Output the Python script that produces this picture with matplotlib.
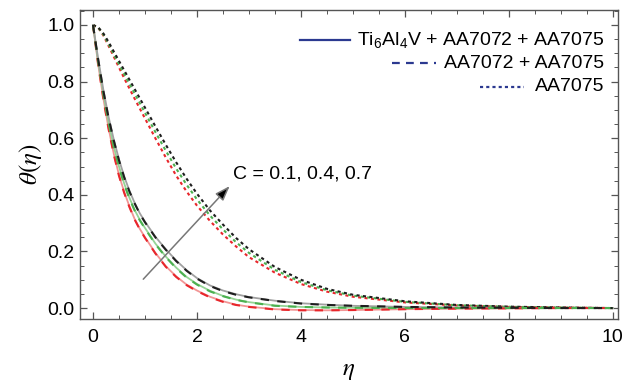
import matplotlib
matplotlib.use("Agg")
import matplotlib.pyplot as plt
from matplotlib.ticker import MultipleLocator
from matplotlib.lines import Line2D

plt.rcParams['font.family'] = ['Liberation Sans', 'DejaVu Sans']
plt.rcParams['mathtext.fontset'] = 'stix'

# ---------------- data ----------------
eta = [0, 0.1, 0.2, 0.3, 0.4, 0.5, 0.6, 0.7, 0.8, 0.9, 1.0, 1.2, 1.4, 1.6, 1.8,
       2.0, 2.25, 2.5, 2.75, 3.0, 3.5, 4.0, 4.5, 5.0, 6.0, 7.0, 8.0, 9.0, 10.0]

# Ti6Al4V + AA7072 + AA7075 (solid) -- C = 0.1, 0.4, 0.7
tri_c01 = [1.0, 0.86, 0.74, 0.635, 0.545, 0.47, 0.41, 0.36, 0.315, 0.28, 0.25,
           0.195, 0.148, 0.112, 0.083, 0.062, 0.040, 0.024, 0.012, 0.005,
           -0.004, -0.007, -0.008, -0.007, -0.004, -0.002, -0.001, 0.0, 0.0]
tri_c04 = [1.0, 0.87, 0.755, 0.655, 0.57, 0.50, 0.44, 0.39, 0.347, 0.312, 0.283,
           0.228, 0.182, 0.143, 0.11, 0.085, 0.061, 0.043, 0.030, 0.021,
           0.009, 0.004, 0.002, 0.001, 0.0, 0.0, 0.0, 0.0, 0.0]
tri_c07 = [1.0, 0.88, 0.77, 0.675, 0.595, 0.525, 0.465, 0.415, 0.372, 0.335, 0.305,
           0.252, 0.208, 0.168, 0.134, 0.106, 0.080, 0.062, 0.049, 0.039,
           0.026, 0.017, 0.012, 0.008, 0.004, 0.002, 0.001, 0.0, 0.0]

# AA7072 + AA7075 (dashed)
hyb_c01 = [1.0, 0.858, 0.737, 0.632, 0.542, 0.467, 0.407, 0.357, 0.313, 0.278, 0.248,
           0.193, 0.146, 0.110, 0.081, 0.060, 0.038, 0.022, 0.011, 0.004,
           -0.005, -0.008, -0.008, -0.007, -0.004, -0.002, -0.001, 0.0, 0.0]
hyb_c04 = [1.0, 0.868, 0.752, 0.652, 0.567, 0.497, 0.437, 0.387, 0.345, 0.310, 0.281,
           0.226, 0.180, 0.141, 0.108, 0.083, 0.059, 0.042, 0.029, 0.020,
           0.008, 0.004, 0.002, 0.001, 0.0, 0.0, 0.0, 0.0, 0.0]
hyb_c07 = [1.0, 0.878, 0.767, 0.672, 0.592, 0.522, 0.462, 0.412, 0.370, 0.333, 0.303,
           0.250, 0.206, 0.166, 0.132, 0.104, 0.078, 0.060, 0.047, 0.038,
           0.025, 0.016, 0.011, 0.008, 0.004, 0.002, 0.001, 0.0, 0.0]

# AA7075 (dotted)
mono_c01 = [1.0, 0.99, 0.963, 0.926, 0.888, 0.850, 0.812, 0.776, 0.740, 0.705, 0.670,
            0.600, 0.532, 0.468, 0.412, 0.362, 0.308, 0.26, 0.218, 0.18,
            0.125, 0.085, 0.058, 0.04, 0.02, 0.009, 0.004, 0.002, 0.0]
mono_c04 = [1.0, 0.991, 0.966, 0.932, 0.896, 0.861, 0.826, 0.792, 0.758, 0.724, 0.690,
            0.622, 0.556, 0.493, 0.436, 0.384, 0.327, 0.278, 0.233, 0.195,
            0.135, 0.092, 0.063, 0.044, 0.022, 0.010, 0.0045, 0.002, 0.0]
mono_c07 = [1.0, 0.992, 0.970, 0.940, 0.906, 0.873, 0.840, 0.807, 0.774, 0.741, 0.708,
            0.642, 0.577, 0.515, 0.457, 0.404, 0.345, 0.295, 0.248, 0.208,
            0.145, 0.100, 0.068, 0.047, 0.024, 0.011, 0.005, 0.002, 0.0]

legend_labels = [r"Ti$\mathregular{_6}$Al$\mathregular{_4}$V + AA7072 + AA7075",
                 "AA7072 + AA7075", "AA7075"]
annot_text = "C = 0.1, 0.4, 0.7"

# ---------------- figure ----------------
fig = plt.figure(figsize=(6.37, 3.84), dpi=100)
ax = fig.add_axes([0.1256, 0.169, 0.8445, 0.805])

pale = ['#f29595', '#95d495', '#a0a0a0']
strong = ['#e8262b', '#4cb050', '#1e1e1e']

tri = [tri_c01, tri_c04, tri_c07]
hyb = [hyb_c01, hyb_c04, hyb_c07]
mono = [mono_c01, mono_c04, mono_c07]

for i in range(3):
    ax.plot(eta, mono[i], color=strong[i], lw=1.5, ls=(0, (1.5, 1.6)), zorder=2)
for i in range(3):
    ax.plot(eta, tri[i], color=pale[i], lw=1.3, zorder=3)
    ax.plot(eta, hyb[i], color=strong[i], lw=1.5, ls=(0, (4, 4)), zorder=4)

ax.set_xlim(-0.25, 10.1)
ax.set_ylim(-0.039, 1.053)

ax.xaxis.set_major_locator(MultipleLocator(2))
ax.xaxis.set_minor_locator(MultipleLocator(0.5))
ax.yaxis.set_major_locator(MultipleLocator(0.2))
ax.yaxis.set_minor_locator(MultipleLocator(0.05))
ax.set_yticks([0.0, 0.2, 0.4, 0.6, 0.8, 1.0])
ax.set_yticklabels(['0.0', '0.2', '0.4', '0.6', '0.8', '1.0'])
ax.set_xticks([0, 2, 4, 6, 8, 10])
ax.set_xticklabels(['0', '2', '4', '6', '8', '10'])

frame_col = '#555555'
for s in ax.spines.values():
    s.set_color(frame_col)
    s.set_linewidth(1.0)
ax.tick_params(which='both', direction='in', top=True, right=True, colors=frame_col,
               labelcolor='black', labelsize=14)
ax.tick_params(which='major', length=5, width=0.9)
ax.tick_params(which='minor', length=2.8, width=0.7)
ax.tick_params(axis='x', pad=7)
ax.tick_params(axis='y', pad=4)

ax.set_xlabel(r"$\eta$", fontsize=18, labelpad=9)
ax.set_ylabel(r"$\theta(\eta)$", fontsize=18, labelpad=2)

# arrow + annotation
ax.annotate("", xy=(2.63, 0.431), xytext=(0.967, 0.102),
            arrowprops=dict(arrowstyle="-|>,head_length=0.9,head_width=0.32",
                            color='#777777', lw=1.1, shrinkA=0, shrinkB=0,
                            fc='black', ec='#777777'), zorder=6)
ax.text(2.69, 0.473, annot_text, fontsize=14, ha='left', va='center', zorder=6)

# manual right-aligned legend (axes coordinates)
leg_col = '#2b3990'
rows_y = [0.903, 0.828, 0.751]
text_right = 0.975
line_spans = [(0.409, 0.502), (0.580, 0.662), (0.743, 0.826)]
styles = ['-', (0, (3.5, 2.8)), (0, (1.4, 1.4))]
for lab, y, (x0, x1), st in zip(legend_labels, rows_y, line_spans, styles):
    ax.add_line(Line2D([x0, x1], [y, y], transform=ax.transAxes, color=leg_col,
                       lw=1.6, ls=st, zorder=7))
    ax.text(text_right, y, lab, transform=ax.transAxes, ha='right', va='center',
            fontsize=14, zorder=7)

fig.savefig("out.png", dpi=100)
